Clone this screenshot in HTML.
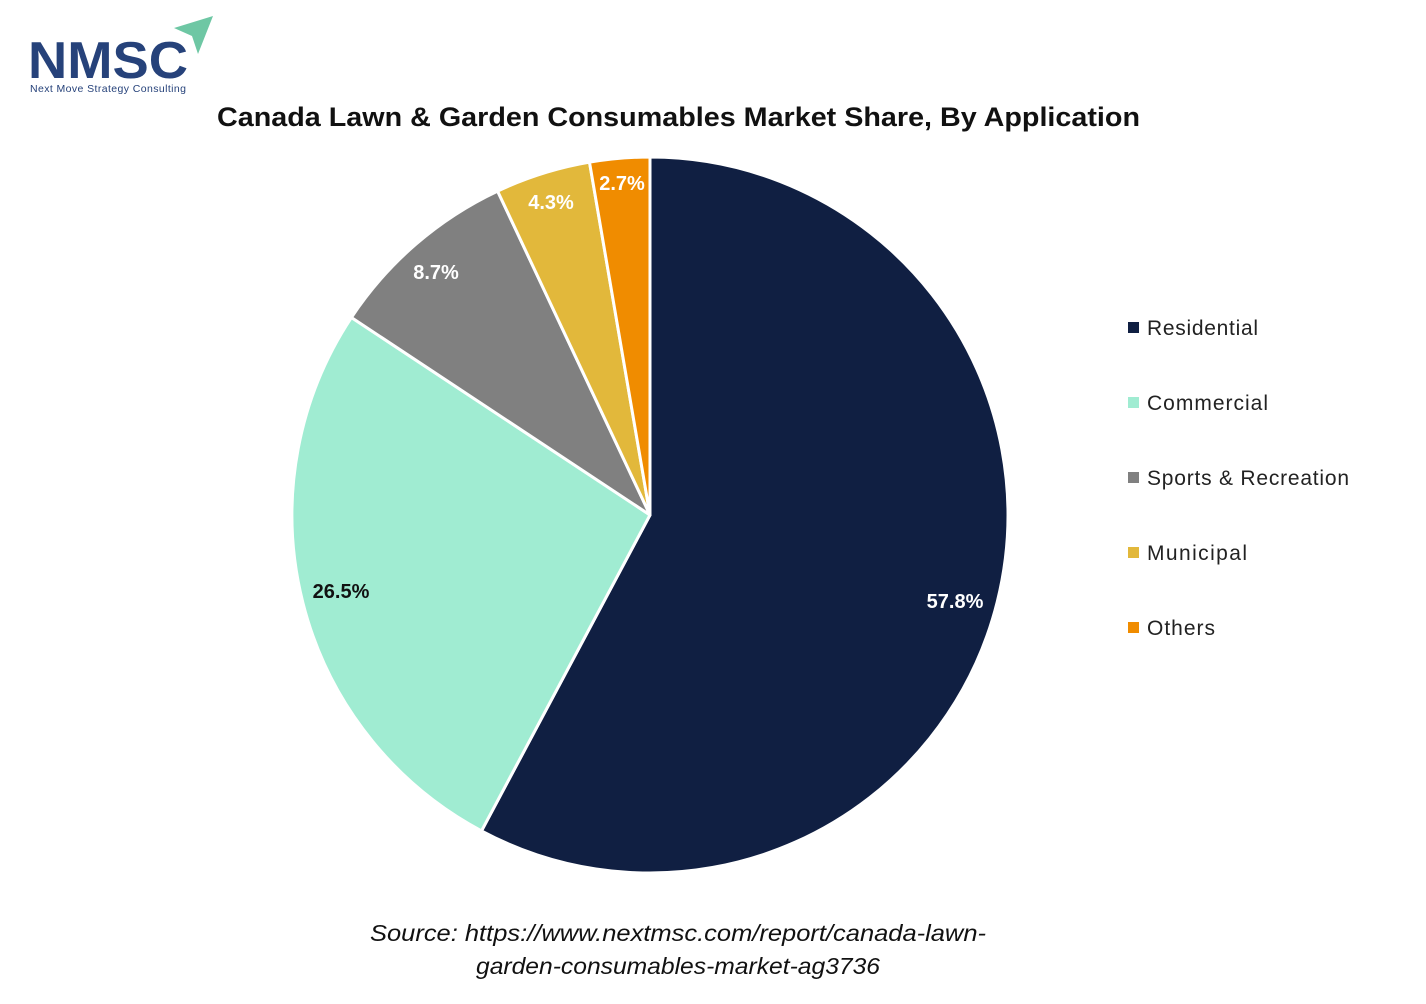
<!DOCTYPE html>
<html><head><meta charset="utf-8"><style>
body{margin:0;background:#fff;width:1426px;height:999px;overflow:hidden;font-family:"Liberation Sans",sans-serif}
</style></head><body>
<svg width="1426" height="999" xmlns="http://www.w3.org/2000/svg">
<text x="28" y="78" font-family="Liberation Sans" font-weight="bold" font-size="52" fill="#26427a" textLength="160" lengthAdjust="spacingAndGlyphs">NMSC</text>
<polygon points="174,28 213,16 198,54 192,36" fill="#6ec7a4"/>
<text x="30" y="92" font-size="10.5" fill="#26427a" textLength="156">Next Move Strategy Consulting</text>
<text x="217" y="126" font-weight="bold" font-size="27" fill="#111" textLength="923" lengthAdjust="spacingAndGlyphs">Canada Lawn &amp; Garden Consumables Market Share, By Application</text>
<g stroke="#fff" stroke-width="3" stroke-linejoin="round">
<path d="M650,515 L650,157 A358,358 0 1 1 481.5,830.9 Z" fill="#101f42"/>
<path d="M650,515 L481.5,830.9 A358,358 0 0 1 351.4,317.5 Z" fill="#a0ecd2"/>
<path d="M650,515 L351.4,317.5 A358,358 0 0 1 497.6,191.1 Z" fill="#808080"/>
<path d="M650,515 L497.6,191.1 A358,358 0 0 1 589.5,162.2 Z" fill="#e2b83b"/>
<path d="M650,515 L589.5,162.2 A358,358 0 0 1 650,157 Z" fill="#f08c00"/>
</g>
<g font-weight="bold" font-size="20" text-anchor="middle">
<text x="955" y="608" fill="#fff">57.8%</text>
<text x="341" y="598" fill="#111">26.5%</text>
<text x="436" y="279" fill="#fff">8.7%</text>
<text x="551" y="209" fill="#fff">4.3%</text>
<text x="622" y="190" fill="#fff">2.7%</text>
</g>
<g font-size="21" fill="#222" lengthAdjust="spacingAndGlyphs">
<rect x="1128" y="322" width="11" height="11" fill="#101f42"/><text x="1147" y="335" textLength="111">Residential</text>
<rect x="1128" y="397" width="11" height="11" fill="#a0ecd2"/><text x="1147" y="410" textLength="121">Commercial</text>
<rect x="1128" y="472" width="11" height="11" fill="#808080"/><text x="1147" y="485" textLength="202">Sports &amp; Recreation</text>
<rect x="1128" y="547" width="11" height="11" fill="#e2b83b"/><text x="1147" y="560" textLength="100">Municipal</text>
<rect x="1128" y="622" width="11" height="11" fill="#f08c00"/><text x="1147" y="635" textLength="68">Others</text>
</g>
<g font-size="23" font-style="italic" fill="#111">
<text x="370" y="941" textLength="616" lengthAdjust="spacingAndGlyphs">Source: https://www.nextmsc.com/report/canada-lawn-</text>
<text x="476" y="974" textLength="404" lengthAdjust="spacingAndGlyphs">garden-consumables-market-ag3736</text>
</g>
</svg>
</body></html>
